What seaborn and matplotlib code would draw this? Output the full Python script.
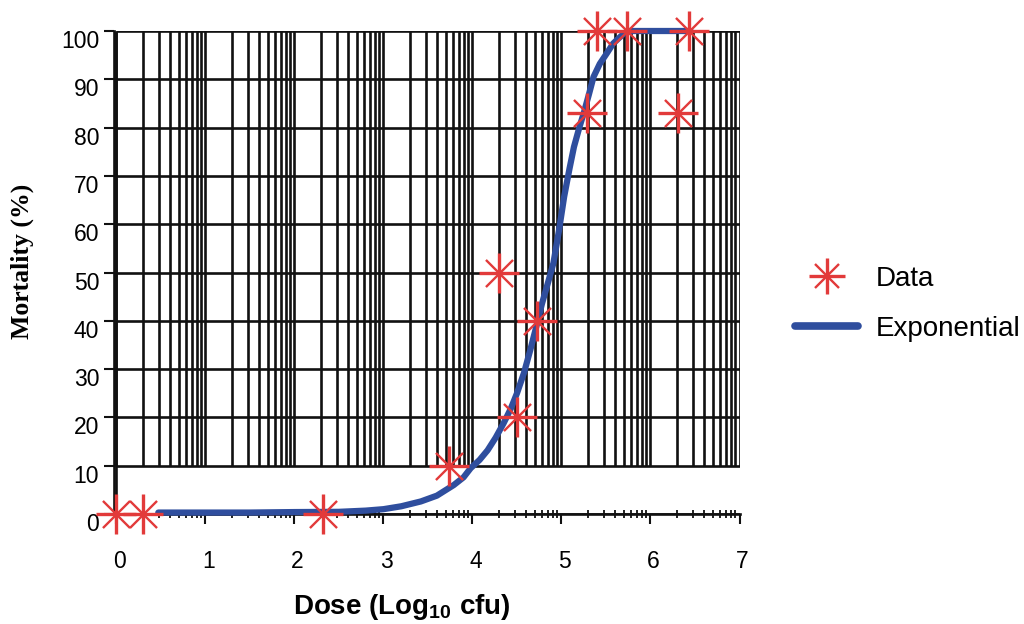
import numpy as np
import pandas as pd
import matplotlib
matplotlib.use("Agg")
import matplotlib.pyplot as plt
import matplotlib.transforms as mtransforms
from matplotlib.lines import Line2D
from matplotlib.legend_handler import HandlerTuple
import seaborn as sns

# ---- data ----
dose_data = [0.0, 0.30, 2.32, 3.74, 4.30, 4.50, 4.73, 5.29, 5.40, 5.74, 6.31, 6.43]
mort_data = [0, 0, 0, 10, 50, 20, 40, 83, 100, 100, 83, 100]

dose_fit = [0.47, 1.0, 1.5, 2.0, 2.5, 2.8, 3.0, 3.2, 3.42, 3.60, 3.79, 3.90, 3.98,
            4.08, 4.17, 4.26, 4.35, 4.43, 4.50, 4.58, 4.65, 4.72, 4.78, 4.85, 4.91,
            4.97, 5.03, 5.09, 5.14, 5.20, 5.25, 5.31, 5.36, 5.43, 5.51, 5.58, 5.66,
            5.71, 5.76, 6.0, 6.45]
mort_fit = [0.3, 0.3, 0.3, 0.4, 0.45, 0.7, 1.0, 1.6, 2.6, 3.8, 6.0, 7.6, 9.5,
            11.2, 13.2, 15.8, 18.8, 21.8, 25.0, 29.3, 34.0, 39.0, 43.5, 48.0, 52.0,
            58.5, 65.7, 71.5, 76.0, 80.0, 83.0, 87.0, 90.5, 93.2, 95.4, 97.4, 98.8,
            99.6, 100, 100, 100]

x_ticks = list(range(0, 8))
y_ticks = list(range(0, 101, 10))
legend_labels = ["Data", "Exponential"]

RED = "#E23A3A"
BLUE = "#2F4E9E"
INK = "#111111"

sns.set_theme(style="white")
plt.rcParams["font.family"] = ["Liberation Sans", "DejaVu Sans"]
plt.rcParams["mathtext.fontset"] = "custom"
plt.rcParams["mathtext.rm"] = "Liberation Sans"
plt.rcParams["mathtext.bf"] = "Liberation Sans:bold"
plt.rcParams["text.color"] = "black"
plt.rcParams["xtick.labelcolor"] = "black"
plt.rcParams["ytick.labelcolor"] = "black"

fig = plt.figure(figsize=(10.24, 6.24), dpi=100)
ax = fig.add_axes([113.8 / 1024, 110 / 624, 625.7 / 1024, 483 / 624])
ax.set_xlim(-0.03, 7.0)
ax.set_ylim(0, 100)

# log-style grid within each unit of log10 dose
minor_pos = [k + np.log10(m) for k in x_ticks[:-1] for m in range(2, 10)]
all_v = sorted(set(x_ticks + minor_pos))
ax.vlines(all_v, 10, 100, colors=INK, lw=1.9, zorder=1)
ax.hlines(y_ticks, 0, 7, colors=INK, lw=1.9, zorder=1)
ax.vlines([0], 0, 100, colors=INK, lw=1.9, zorder=1)

sns.lineplot(x=dose_fit, y=mort_fit, color=BLUE, lw=4.5, ax=ax, zorder=4,
             clip_on=False, legend=False)
sns.scatterplot(x=dose_data, y=mort_data, marker="+", s=29 ** 2, linewidth=2.4,
                color=RED, ax=ax, zorder=5, clip_on=False, legend=False)
sns.scatterplot(x=dose_data, y=mort_data, marker="x", s=19.5 ** 2, linewidth=1.7,
                color=RED, ax=ax, zorder=5, clip_on=False, legend=False)

for s in ["top", "right"]:
    ax.spines[s].set_visible(False)
for s in ["left", "bottom"]:
    ax.spines[s].set_color(INK)
    ax.spines[s].set_linewidth(1.9)

ax.set_xticks(x_ticks)
ax.set_xticks(minor_pos, minor=True)
ax.set_yticks(y_ticks)
ax.tick_params(axis="x", which="major", direction="out", length=7, width=1.5,
               color=INK, labelsize=16.5, pad=19, labelcolor="black")
ax.tick_params(axis="x", which="minor", direction="inout", length=6, width=1.3,
               color=INK)
ax.tick_params(axis="y", which="major", direction="out", length=7, width=1.5,
               color=INK, labelsize=16.5, pad=3.5, left=True, labelcolor="black")
ax.tick_params(axis="x", bottom=True, which="both")

off = mtransforms.ScaledTranslation(0, -0.08, fig.dpi_scale_trans)
for lab in ax.get_yticklabels():
    lab.set_transform(lab.get_transform() + off)
offx = mtransforms.ScaledTranslation(0.03, 0, fig.dpi_scale_trans)
for lab in ax.get_xticklabels():
    lab.set_transform(lab.get_transform() + offx)

ax.set_xlabel("Dose (Log$_{\\mathbf{10}}$ cfu)", fontsize=20, fontweight="bold",
              va="center", color="black")
ax.xaxis.set_label_coords(0.4606, -0.1925)
ax.set_ylabel("Mortality (%)", fontsize=18.5, fontweight="bold",
              family=["Liberation Serif", "DejaVu Serif"], va="center", color="black")
ax.yaxis.set_label_coords(-0.1467, 0.5238)

h_plus = Line2D([], [], marker="+", ms=26, mew=2.4, color=RED, ls="none")
h_x = Line2D([], [], marker="x", ms=17, mew=1.7, color=RED, ls="none")
h_line = Line2D([], [], color=BLUE, lw=5.5)
fig.legend(handles=[(h_plus, h_x), h_line], labels=legend_labels,
           handler_map={tuple: HandlerTuple(ndivide=1, pad=0)},
           loc="upper left", bbox_to_anchor=(795 / 1024, 1 - 266 / 624),
           frameon=False, fontsize=20, handlelength=2.27, handletextpad=0.65,
           labelspacing=0.85, borderpad=0, borderaxespad=0, labelcolor="black")

fig.savefig("out.png", dpi=100)
